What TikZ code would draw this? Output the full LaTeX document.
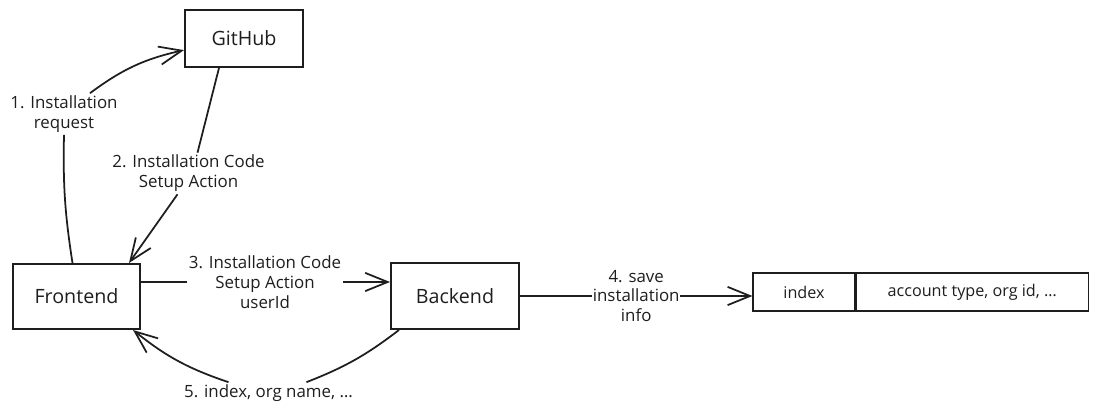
\documentclass[tikz,border=0pt]{standalone}
\usepackage{fontspec}
\setmainfont{Open Sans}
\usetikzlibrary{arrows.meta}
\definecolor{ink}{HTML}{1E1E1E}

\begin{document}
\begin{tikzpicture}[x=0.025cm, y=-0.025cm, color=ink,
  >={Straight Barb[length=16pt, width=13pt]},
  box/.style={draw=ink, line width=1.4pt, inner sep=0pt,
    font=\fontsize{14}{16}\selectfont},
  cell/.style={draw=ink, line width=0.8pt, minimum height=0.95cm,
    inner sep=0pt, font=\fontsize{11.5}{13}\selectfont},
  lbl/.style={align=center, inner sep=1.5pt,
    font=\fontsize{12}{14.2}\selectfont},
  flow/.style={draw=ink, line width=1.25pt}]

\useasboundingbox (0,0) rectangle (1096,412);

\node [box, minimum width=2.95cm, minimum height=1.425cm] (gh) at (244,38.5) {GitHub};
\node [box, minimum width=3.175cm, minimum height=1.625cm] (fe) at (76.5,296.5) {Frontend};
\node [box, minimum width=3.2cm, minimum height=1.65cm] (be) at (455,296) {Backend};

\node [cell, minimum width=2.55cm] (idx) at (804,292) {index};
\node [cell, minimum width=5.8cm, anchor=west] (acc) at (idx.east) {account type, org id, \dots};

\node [lbl] (lab1) at (64,114) {1. Installation\\request};
\node [lbl] (lab2) at (188.5,173.5) {2. Installation Code\\Setup Action};
\node [lbl] (lab3) at (265,282) {3. Installation Code\\Setup Action\\userId};
\node [lbl] (lab5) at (268.5,393) {5. index, org name, \dots};

\begin{scope}[flow]
  \draw ([xshift=-0.1cm]fe.north) to [bend left=5] (lab1.south);
  \draw [->] ([xshift=0.65cm]lab1.north) to [bend left=12] ([yshift=-0.29cm]gh.west);

  \draw ([xshift=-0.625cm]gh.south) -- ([xshift=0.225cm]lab2.north);
  \draw [->] ([xshift=-0.275cm]lab2.south) -- ([xshift=-0.3cm]fe.north east);

  \draw (fe.east |- lab3) -- (lab3.west);
  \draw [->] (lab3.east) -- (be.west |- lab3);

  \draw [->] (be.east) -- (be.east -| idx.west) node [lbl, midway, fill=white,
    inner xsep=0.5pt] (lab4) {4. save\\installation\\info};

  \draw ([xshift=0.225cm]be.south west) to [bend left=8] ([xshift=0.95cm]lab5.north);
  \draw [->] ([xshift=-1.0cm]lab5.north) to [bend left=10] ([xshift=-0.2cm]fe.south east);
\end{scope}
\end{tikzpicture}
\end{document}
